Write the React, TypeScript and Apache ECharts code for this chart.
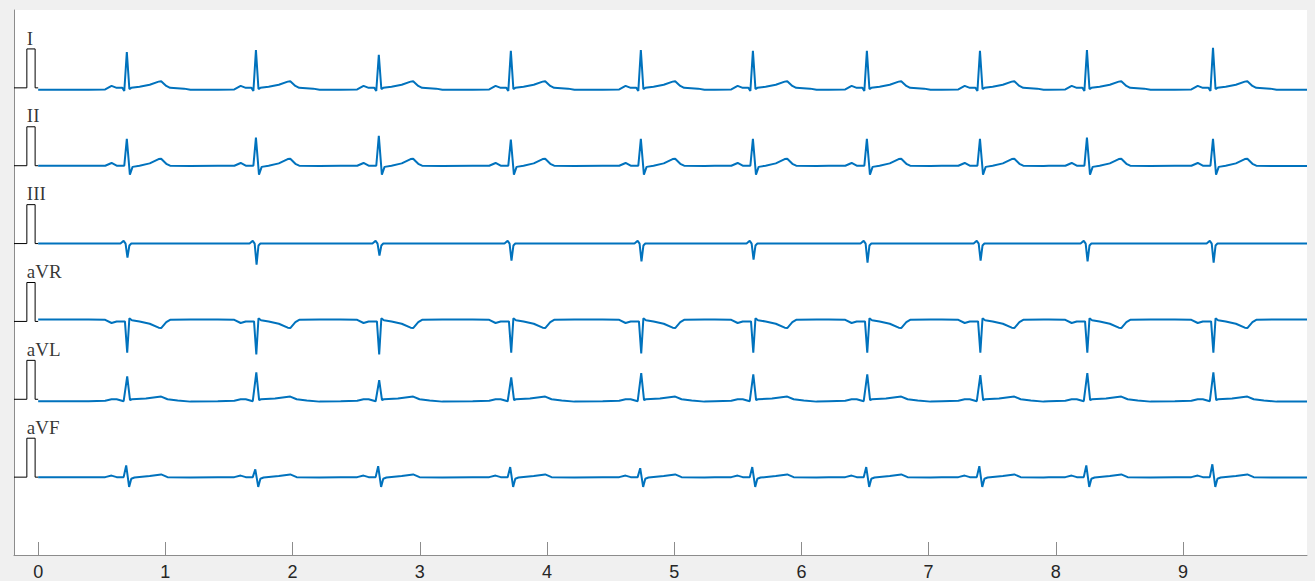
import React, { useEffect, useRef } from "react";
import * as echarts from "echarts";

// ---- data ----
const leadNames = ["I", "II", "III", "aVR", "aVL", "aVF"];
const leadOffsets = [0, -2, -4, -6, -8, -10]; // mV vertical offset of each trace
const beatTimes = [0.697, 1.712, 2.678, 3.716, 4.738, 5.619, 6.515, 7.404, 8.245, 9.236]; // s
const xTickValues = [0, 1, 2, 3, 4, 5, 6, 7, 8, 9];

// calibration pulse (1 mV)
const calibTimes = [-0.19, -0.089, -0.089, -0.024, -0.024, 0];
const calibLevels = [0, 0, 1, 1, 0, 0];
const labelTime = -0.089;
const labelLevel = 1.28;

// beat templates: [time offset from R (s), mV]; null = per-beat main deflection
const templateI: [number, number | null][] = [
  [-0.3, -0.05], [-0.17, -0.04], [-0.12, 0.05], [-0.08, 0.0], [-0.035, 0.0], [-0.02, -0.08],
  [0, null], [0.02, -0.03], [0.035, 0.0], [0.1, 0.03], [0.18, 0.08], [0.25, 0.16], [0.27, 0.17],
  [0.31, 0.05], [0.34, 0.0], [0.45, -0.02], [0.5, -0.05],
];
const templateII: [number, number | null][] = [
  [-0.3, 0.0], [-0.17, 0.0], [-0.12, 0.07], [-0.08, 0.0], [-0.02, 0.0], [0, null], [0.024, -0.23],
  [0.045, -0.03], [0.1, 0.0], [0.18, 0.06], [0.25, 0.17], [0.27, 0.18], [0.31, 0.05], [0.34, 0.0],
  [0.5, -0.01],
];
const templateIII: [number, number | null][] = [
  [-0.3, 0.0], [-0.05, 0.0], [-0.025, 0.07], [-0.01, 0.0], [0.005, null], [0.02, -0.05],
  [0.035, 0.0], [0.5, 0.0],
];
const templateAVR: [number, number | null][] = [
  [-0.3, 0.05], [-0.17, 0.04], [-0.12, -0.04], [-0.08, 0.0], [-0.015, 0.0], [0.003, null],
  [0.02, 0.08], [0.04, 0.03], [0.1, 0.0], [0.18, -0.06], [0.25, -0.16], [0.27, -0.17],
  [0.31, -0.02], [0.34, 0.04], [0.5, 0.05],
];
const templateAVL: [number, number | null][] = [
  [-0.3, -0.05], [-0.17, -0.04], [-0.12, 0.0], [-0.08, 0.0], [-0.025, -0.05], [0.003, null],
  [0.025, -0.02], [0.04, 0.0], [0.15, 0.02], [0.27, 0.07], [0.32, 0.0], [0.4, -0.03], [0.5, -0.06],
];
const templateAVF: [number, number | null][] = [
  [-0.3, 0.0], [-0.17, 0.0], [-0.12, 0.04], [-0.08, 0.0], [-0.025, 0.0], [-0.005, null],
  [0.018, -0.25], [0.035, -0.04], [0.06, -0.01], [0.18, 0.03], [0.27, 0.07], [0.32, 0.0],
  [0.5, -0.01],
];

// per-beat main deflection (mV)
const ampsI = [0.92, 0.97, 0.85, 0.95, 0.97, 0.95, 0.95, 0.95, 0.97, 1.03];
const ampsII = [0.69, 0.72, 0.77, 0.67, 0.69, 0.69, 0.69, 0.69, 0.72, 0.69];
const ampsIII = [-0.36, -0.54, -0.31, -0.44, -0.46, -0.41, -0.49, -0.44, -0.46, -0.49];
const ampsAVR = [-0.8, -0.85, -0.85, -0.8, -0.82, -0.8, -0.8, -0.8, -0.8, -0.8];
const ampsAVL = [0.59, 0.69, 0.49, 0.56, 0.67, 0.64, 0.64, 0.62, 0.67, 0.69];
const ampsAVF = [0.3, 0.2, 0.28, 0.26, 0.23, 0.26, 0.26, 0.28, 0.3, 0.33];

const templates = [templateI, templateII, templateIII, templateAVR, templateAVL, templateAVF];
const amps = [ampsI, ampsII, ampsIII, ampsAVR, ampsAVL, ampsAVF];

const X_MIN = -0.19;
const X_MAX = 9.975;

function buildTrace(tpl: [number, number | null][], a: number[], off: number): number[][] {
  const pts: number[][] = [];
  pts.push([0, off + (tpl[0][1] as number)]);
  beatTimes.forEach((bt, i) => {
    tpl.forEach(([dt, v]) => {
      pts.push([bt + dt, off + (v === null ? a[i] : v)]);
    });
  });
  pts.push([X_MAX, off + (tpl[tpl.length - 1][1] as number)]);
  return pts;
}

export default function App() {
  const ref = useRef<HTMLDivElement>(null);
  useEffect(() => {
    if (!ref.current) return;
    const chart = echarts.init(ref.current, null, { renderer: "svg" });
    const series: any[] = [];
    leadNames.forEach((name, k) => {
      const off = leadOffsets[k];
      series.push({
        type: "line",
        data: calibTimes.map((t, i) => [t, calibLevels[i] + off]),
        showSymbol: false,
        lineStyle: { color: "#000", width: 1 },
        silent: true,
      });
      series.push({
        type: "line",
        data: buildTrace(templates[k], amps[k], off),
        showSymbol: false,
        lineStyle: { color: "#0072BD", width: 2 },
        silent: true,
      });
      series.push({
        type: "scatter",
        data: [[labelTime, off + labelLevel]],
        symbolSize: 0,
        silent: true,
        label: {
          show: true,
          formatter: name,
          position: [0, 0],
          align: "left",
          verticalAlign: "middle",
          fontFamily: "Liberation Serif",
          fontSize: 19,
          color: "#000",
        },
      });
    });
    chart.setOption({
      animation: false,
      grid: {
        left: 14,
        top: 10,
        width: 1293,
        height: 547,
        show: true,
        backgroundColor: "#ffffff",
        borderWidth: 0,
      },
      xAxis: {
        type: "value",
        min: X_MIN,
        max: X_MAX,
        axisLine: { show: true, onZero: false, lineStyle: { color: "#8c8c8c", width: 1 } },
        axisTick: {
          show: true,
          inside: true,
          length: 13,
          customValues: xTickValues,
          lineStyle: { color: "#8c8c8c", width: 1 },
        },
        axisLabel: {
          show: true,
          customValues: xTickValues,
          color: "#262626",
          fontSize: 18,
          fontFamily: "Liberation Sans",
          margin: 8,
          formatter: (v: number) => String(v),
        },
        splitLine: { show: false },
      },
      yAxis: {
        type: "value",
        min: -12,
        max: 2,
        axisLine: { show: true, onZero: false, lineStyle: { color: "#8c8c8c", width: 1 } },
        axisTick: { show: false },
        axisLabel: { show: false },
        splitLine: { show: false },
      },
      series,
    });
    return () => chart.dispose();
  }, []);
  return (
    <div
      ref={ref}
      style={{
        position: "fixed",
        left: 0,
        top: 0,
        width: 1315,
        height: 581,
        background: "#f0f0f0",
      }}
    />
  );
}
